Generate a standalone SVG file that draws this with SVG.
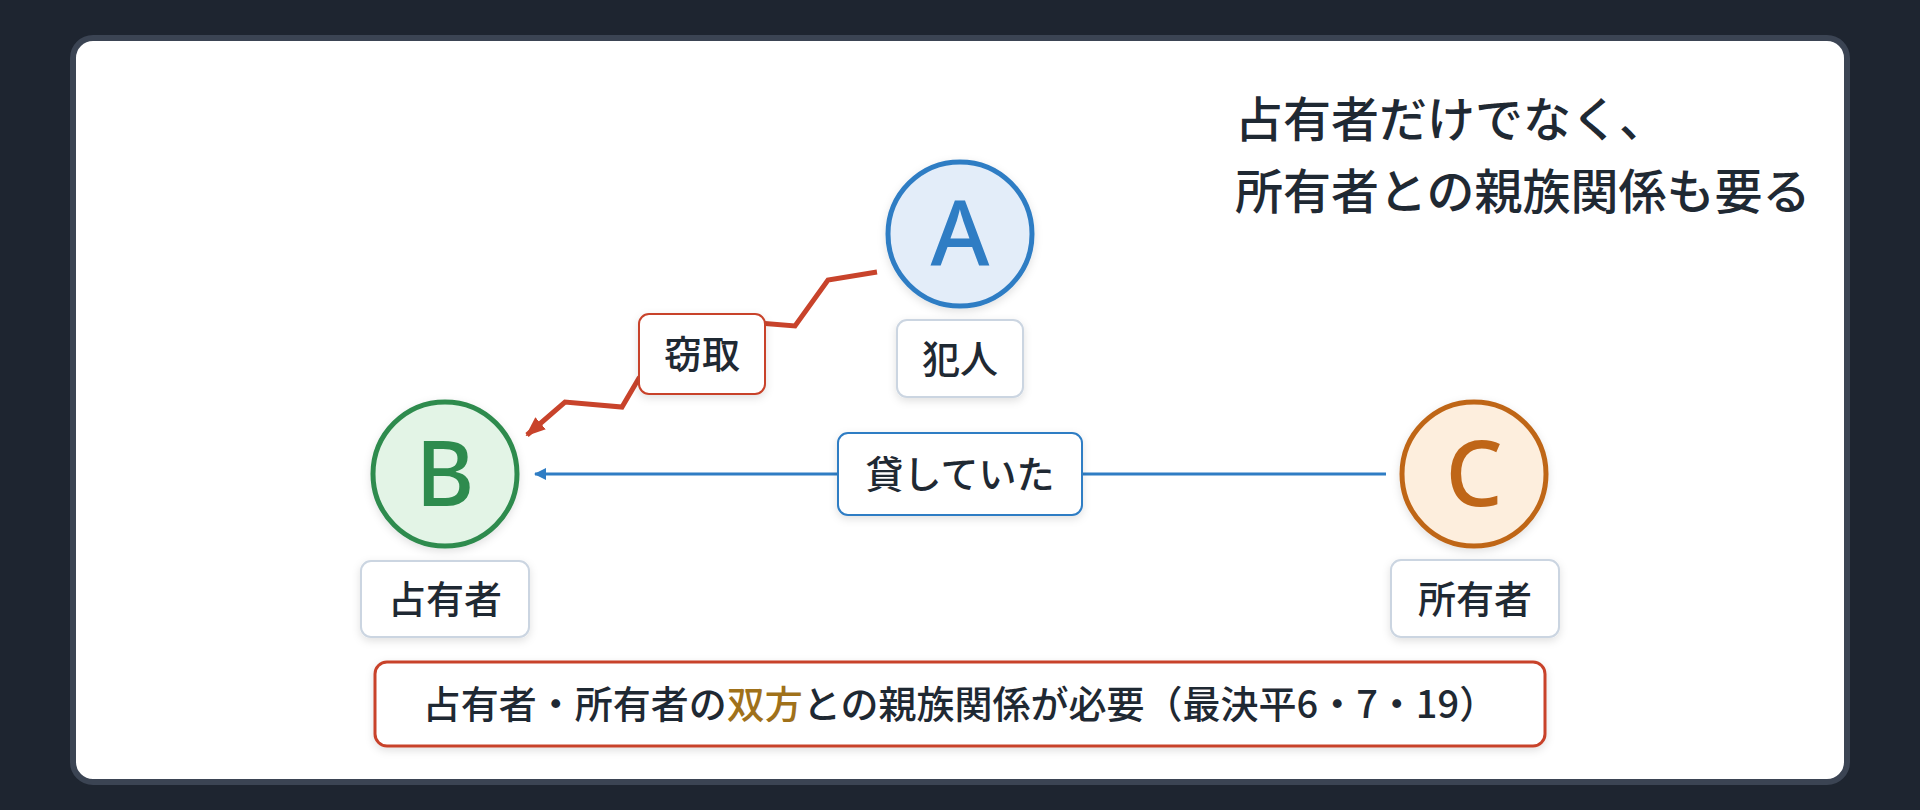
<svg xmlns="http://www.w3.org/2000/svg" width="1920" height="810" viewBox="0 0 1920 810">
  <defs>
    <style>
      .jp { font-family: "Noto Sans CJK JP", "Noto Sans", sans-serif; fill: #1f2933; }
      .lbl { font-size: 38px; font-weight: 500; text-anchor: middle; }
      .title { font-size: 48px; font-weight: 500; }
      .letter { font-family: "Noto Sans", "Liberation Sans", sans-serif; font-size: 90px; font-weight: 500; text-anchor: middle; }
      .tag { fill: #ffffff; stroke: #cbd5e1; stroke-width: 2; }
    </style>
    <filter id="sh" x="-20%" y="-20%" width="140%" height="150%">
      <feDropShadow dx="0" dy="3" stdDeviation="4" flood-color="#000000" flood-opacity="0.12"/>
    </filter>
    <marker id="arrRed" viewBox="0 0 20 16" refX="18" refY="8" markerWidth="20" markerHeight="16" markerUnits="userSpaceOnUse" orient="auto">
      <path d="M0,0 L20,8 L0,16 Z" fill="#c8432b"/>
    </marker>
    <marker id="arrBlue" viewBox="0 0 12 12" refX="11" refY="6" markerWidth="12" markerHeight="12" markerUnits="userSpaceOnUse" orient="auto">
      <path d="M0,0 L12,6 L0,12 Z" fill="#2f7dc4"/>
    </marker>
  </defs>

  <rect x="0" y="0" width="1920" height="810" fill="#1e2530"/>
  <rect x="73" y="38" width="1774" height="744" rx="20" fill="#ffffff" stroke="#3b4453" stroke-width="6"/>

  <g id="title">
    <text class="jp title" x="1235" y="137">占有者だけでなく、</text>
    <text class="jp title" x="1235" y="209">所有者との親族関係も要る</text>
  </g>

  <g id="connectors">
    <polyline points="877,272 828,280 795,326 702,318 639,378 622,407 565,402 527,435" fill="none" stroke="#c8432b" stroke-width="5" stroke-linejoin="miter" marker-end="url(#arrRed)"/>
    <line x1="1386" y1="474" x2="535" y2="474" stroke="#2f7dc4" stroke-width="3" marker-end="url(#arrBlue)"/>
    <g id="label-theft">
      <rect x="639" y="314" width="126" height="80" rx="10" fill="#ffffff" stroke="#c8432b" stroke-width="2" filter="url(#sh)"/>
      <text class="jp lbl" x="702" y="368">窃取</text>
    </g>
    <g id="label-lent">
      <rect x="838" y="433" width="244" height="82" rx="10" fill="#ffffff" stroke="#2f7dc4" stroke-width="2" filter="url(#sh)"/>
      <text class="jp lbl" x="960" y="488">貸していた</text>
    </g>
  </g>

  <g id="node-A">
    <circle cx="960" cy="234" r="72" fill="#e3edf9" stroke="#2f7dc4" stroke-width="5" filter="url(#sh)"/>
    <text class="letter" x="960" y="266" fill="#2f7dc4">A</text>
    <rect class="tag" x="897" y="320" width="126" height="77" rx="10" filter="url(#sh)"/>
    <text class="jp lbl" x="960" y="373">犯人</text>
  </g>

  <g id="node-B">
    <circle cx="445" cy="474" r="72" fill="#e3f4e6" stroke="#2e8b4e" stroke-width="5" filter="url(#sh)"/>
    <text class="letter" x="445" y="506" fill="#2e8b4e">B</text>
    <rect class="tag" x="361" y="561" width="168" height="76" rx="10" filter="url(#sh)"/>
    <text class="jp lbl" x="445" y="613">占有者</text>
  </g>

  <g id="node-C">
    <circle cx="1474" cy="474" r="72" fill="#fdeedd" stroke="#bf6618" stroke-width="5" filter="url(#sh)"/>
    <text class="letter" x="1474" y="506" fill="#bf6618">C</text>
    <rect class="tag" x="1391" y="560" width="168" height="77" rx="10" filter="url(#sh)"/>
    <text class="jp lbl" x="1475" y="613">所有者</text>
  </g>

  <g id="note">
    <rect x="375" y="662" width="1170" height="84" rx="12" fill="#ffffff" stroke="#c8432b" stroke-width="3" filter="url(#sh)"/>
    <text class="jp lbl" x="960" y="718">占有者・所有者の<tspan fill="#a0711a">双方</tspan>との親族関係が必要（最決平6・7・19）</text>
  </g>
</svg>
